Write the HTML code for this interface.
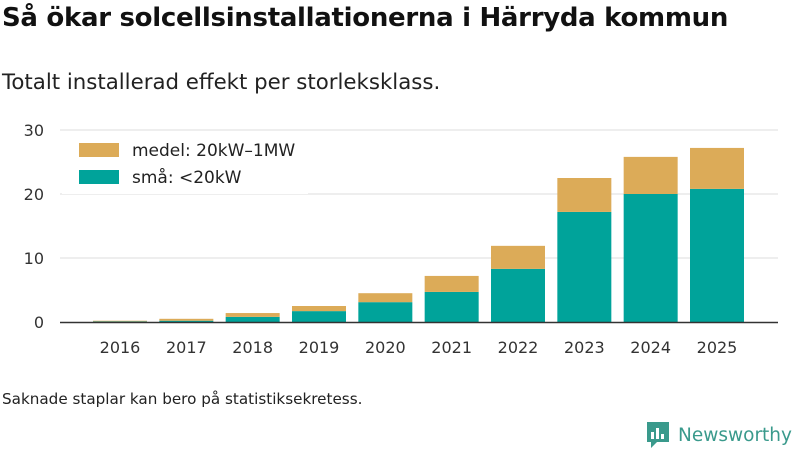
<!DOCTYPE html>
<html><head><meta charset="utf-8">
<style>
body{margin:0;width:800px;height:450px;background:#fff;font-family:"Liberation Sans","DejaVu Sans",sans-serif;overflow:hidden;position:relative}
h1{position:absolute;left:2px;top:3px;margin:0;font-size:26px;font-weight:bold;color:#111;font-family:"DejaVu Sans","Liberation Sans",sans-serif;letter-spacing:-0.3px}
.sub{position:absolute;left:2px;top:70px;font-size:21.3px;color:#222;font-family:"DejaVu Sans",sans-serif}
.note{position:absolute;left:2px;top:390px;font-size:15.2px;color:#222;font-family:"DejaVu Sans",sans-serif}
.logo{position:absolute;left:645px;top:420px;display:flex;align-items:center;color:#3a9a8c;font-size:18.5px;font-family:"DejaVu Sans",sans-serif}
</style></head><body>
<h1>Så ökar solcellsinstallationerna i Härryda kommun</h1>
<div class="sub">Totalt installerad effekt per storleksklass.</div>
<svg id="chart" width="800" height="450" style="position:absolute;left:0;top:0"></svg>
<div class="note">Saknade staplar kan bero på statistiksekretess.</div>
<div class="logo">
<svg width="26" height="30" viewBox="0 0 26 30"><path d="M2 2h22v20H12l-6 6v-6H2z" fill="#3a9a8c"/><rect x="6" y="12" width="3" height="7" fill="#fff"/><rect x="11" y="8" width="3" height="11" fill="#fff"/><rect x="16" y="14" width="3" height="5" fill="#fff"/></svg>
<span style="margin-left:7px">Newsworthy</span></div>
<script>
const years=["2016","2017","2018","2019","2020","2021","2022","2023","2024","2025"];
const small=[0.1,0.2,0.8,1.7,3.1,4.7,8.3,17.2,20.0,20.8];
const medium=[0.1,0.3,0.6,0.8,1.4,2.5,3.6,5.3,5.8,6.4];
const yTicks=[0,10,20,30];
const svg=document.getElementById('chart');
const NS='http://www.w3.org/2000/svg';
const x0=60,x1=778,yb=322,yt=130,ymax=30;
const y=v=>yb-(v/ymax)*(yb-yt);
const step=(717-120)/(years.length-1);
const cx=i=>120+step*i;
function mk(t,a){const e=document.createElementNS(NS,t);for(const k in a)e.setAttribute(k,a[k]);svg.appendChild(e);return e;}
yTicks.forEach(t=>{
 if(t>0){const l=mk('line',{x1:x0,x2:x1,y1:y(t),y2:y(t),stroke:'#ddd','stroke-width':1});
 
 }
 const tx=mk('text',{x:44,y:y(t)+6,'text-anchor':'end','font-size':16,fill:'#333','font-family':'DejaVu Sans,sans-serif'});
 tx.textContent=t;
 
 
});
const bw=54;
years.forEach((yr,i)=>{
 const r1=mk('rect',{x:cx(i)-bw/2,y:y(small[i]),width:bw,height:yb-y(small[i]),fill:'#00a39a'});
 
 
 const tot=small[i]+medium[i];
 const r2=mk('rect',{x:cx(i)-bw/2,y:y(tot),width:bw,height:y(small[i])-y(tot),fill:'#dcab58'});
 
 
 const tx=mk('text',{x:cx(i),y:353,'text-anchor':'middle','font-size':16,fill:'#333','font-family':'DejaVu Sans,sans-serif'});
 tx.textContent=yr;
 
 
});
const ax=mk('line',{x1:x0,x2:x1,y1:yb+0.5,y2:yb+0.5,stroke:'#333','stroke-width':1.5});


const lbg=mk('rect',{x:62,y:136,width:246,height:58,fill:'#fff'});


[["medel: 20kW–1MW",'#dcab58',143],["små: <20kW",'#00a39a',170]].forEach((d,k)=>{
 const r=mk('rect',{x:79,y:d[2],width:40,height:14,fill:d[1]});
 
 
 const t=mk('text',{x:132,y:d[2]+13,'font-size':17,fill:'#222','font-family':'DejaVu Sans,sans-serif'});
 t.textContent=d[0];
 
 
});
</script>
</body></html>
